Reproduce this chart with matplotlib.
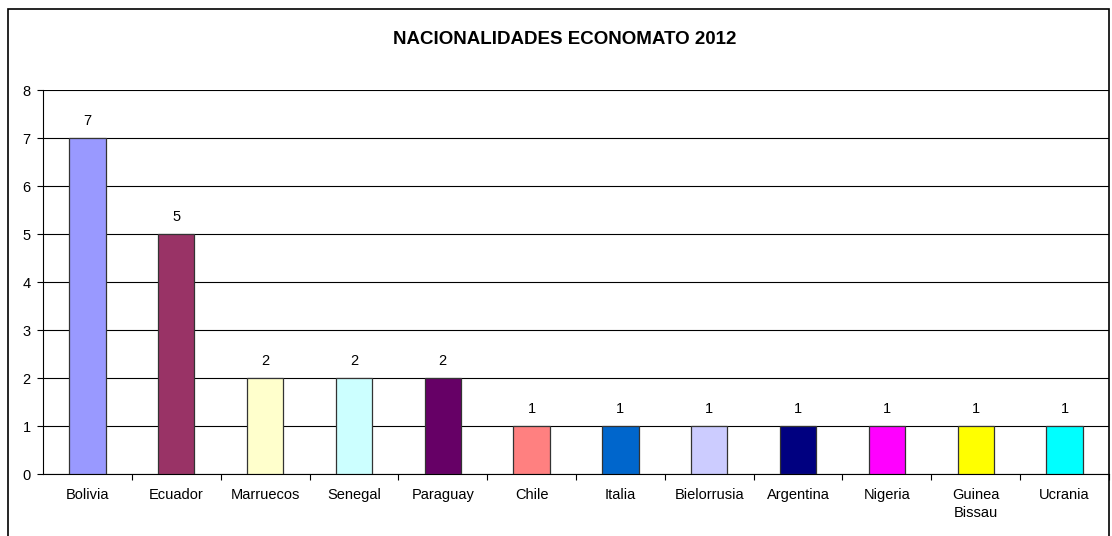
import matplotlib.pyplot as plt
from matplotlib.patches import Rectangle

# data
paises = ['Bolivia', 'Ecuador', 'Marruecos', 'Senegal', 'Paraguay', 'Chile',
          'Italia', 'Bielorrusia', 'Argentina', 'Nigeria', 'Guinea\nBissau', 'Ucrania']
valores = [7, 5, 2, 2, 2, 1, 1, 1, 1, 1, 1, 1]
colores = ['#9999FF', '#993366', '#FFFFCC', '#CCFFFF', '#660066', '#FF8080',
           '#0066CC', '#CCCCFF', '#000080', '#FF00FF', '#FFFF00', '#00FFFF']

plt.rcParams['font.family'] = ['Liberation Sans', 'DejaVu Sans']

fig = plt.figure(figsize=(11.12, 5.36), dpi=100)
ax = fig.add_axes([43 / 1112, 1 - 474 / 536, (1109 - 43) / 1112, (474 - 90) / 536])

x = list(range(len(paises)))
bars = ax.bar(x, valores, width=0.41, color=colores, edgecolor='#333333', linewidth=0.9, zorder=3)
for xi, v in zip(x, valores):
    ax.text(xi, v + 0.2, str(v), ha='center', va='bottom', fontsize=10.5)

ax.set_xlim(-0.5, len(paises) - 0.5)
ax.set_ylim(0, 8)
ax.set_yticks(range(0, 9))
ax.yaxis.grid(True, color='black', linewidth=0.8, zorder=0)
ax.set_xticks([i - 0.5 for i in range(1, len(paises) + 1)])
ax.set_xticklabels([])
ax.set_xticks(x, minor=True)
ax.set_xticklabels(paises, minor=True, fontsize=10.5, linespacing=1.35)
ax.tick_params(axis='x', which='minor', length=0, pad=10)
ax.tick_params(axis='x', which='major', length=4, direction='out', color='black')
ax.tick_params(axis='y', length=4, labelsize=10.5, pad=5)
ax.spines['top'].set_visible(False)
ax.spines['right'].set_visible(False)
ax.spines['left'].set_color('black')
ax.spines['bottom'].set_color('black')

fig.text(565 / 1112, 1 - 40 / 536, 'NACIONALIDADES ECONOMATO 2012', ha='center', va='center',
         fontsize=13.5, fontweight='bold')

# outer frame of the chart
fig.patches.append(Rectangle((8 / 1112, -0.01), (1109 - 8) / 1112, 1 - 9 / 536 + 0.01,
                             transform=fig.transFigure, fill=False, edgecolor='black', linewidth=1.2))

fig.savefig('out.png', dpi=100)
